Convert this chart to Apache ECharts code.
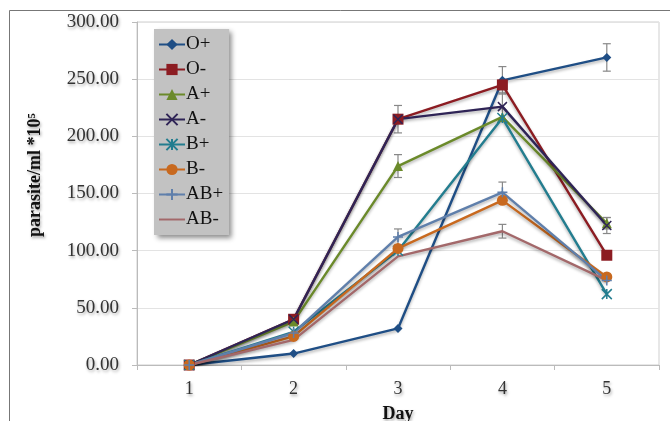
<!DOCTYPE html>
<html><head><meta charset="utf-8">
<script src="https://cdn.jsdelivr.net/npm/echarts@6/dist/echarts.min.js"></script>
<style>html,body{margin:0;padding:0;background:#fff}#c{width:670px;height:421px}</style>
</head><body><div id="c"></div>
<script>
const days = ['1','2','3','4','5'];
const seriesNames = ['O+','O-','A+','A-','B+','B-','AB+','AB-'];
const vOpos = [0, 10, 32, 249, 269];
const vOneg = [0, 40, 215, 245, 96];
const vApos = [0, 38, 174, 217, 124];
const vAneg = [0, 40, 215, 226, 122];
const vBpos = [0, 29, 100, 216, 62];
const vBneg = [0, 25, 102, 144, 77];
const vABpos = [0, 28, 112, 151, 74];
const vABneg = [0, 22, 95, 117, 74];
const eOpos = [0, 0, 0, 12, 12];
const eOneg = [0, 0, 12, 0, 0];
const eApos = [0, 0, 10, 0, 5];
const eAneg = [0, 0, 0, 12, 7];
const eBpos = [0, 0, 0, 0, 0];
const eBneg = [0, 0, 0, 0, 0];
const eABpos = [0, 0, 7, 9, 0];
const eABneg = [0, 0, 0, 6, 0];
const yTicks = [0, 50, 100, 150, 200, 250, 300];
const yTitle = 'parasite/ml *10\u2075';
const xTitle = 'Day';

const values = [vOpos, vOneg, vApos, vAneg, vBpos, vBneg, vABpos, vABneg];
const errors = [eOpos, eOneg, eApos, eAneg, eBpos, eBneg, eABpos, eABneg];
const colors = ['#1f4e85', '#8c1c22', '#6b8a2a', '#2f2456', '#237d8f', '#c8691f', '#5f7fab', '#a3686a'];
const crossPath = 'path://M0,0L10,10M10,0L0,10';
const starPath = 'path://M0,0L10,10M10,0L0,10M5,0L5,10';
const symbols = ['diamond', 'rect', 'triangle', crossPath, starPath, 'circle', 'path://M5,0L5,10M0,5L10,5', 'none'];
const symSizes = [9, 11, 10, 9, 10, 11, 10, 0];

const serif = '"Liberation Serif", "DejaVu Serif", serif';
const txtShadow = {textShadowColor: 'rgba(0,0,0,0.35)', textShadowBlur: 3, textShadowOffsetX: 1, textShadowOffsetY: 2};

const series = [];
seriesNames.forEach((n, i) => {
  const strokeSym = (i === 3 || i === 4 || i === 6);
  series.push({
    name: n, type: 'line', data: values[i],
    symbol: symbols[i], symbolSize: symSizes[i], showSymbol: true,
    lineStyle: {color: colors[i], width: 2.4, shadowColor: 'rgba(0,0,0,0.3)', shadowBlur: 3, shadowOffsetY: 2},
    itemStyle: strokeSym ? {color: colors[i], borderColor: colors[i], borderWidth: 1.5} : {color: colors[i], borderWidth: 0},
    z: 3
  });
});
seriesNames.forEach((n, i) => {
  series.push({
    type: 'custom', name: n + ' err', silent: true, z: 2,
    data: days.map((d, k) => [k, values[i][k], errors[i][k]]).filter(r => r[2] > 0),
    renderItem: function (params, api) {
      const x = api.value(0), y = api.value(1), e = api.value(2);
      const top = api.coord([x, y + e]);
      const bot = api.coord([x, y - e]);
      const w = 4;
      const st = {stroke: '#888', lineWidth: 1.2};
      return {type: 'group', children: [
        {type: 'line', shape: {x1: top[0], y1: top[1], x2: bot[0], y2: bot[1]}, style: st},
        {type: 'line', shape: {x1: top[0] - w, y1: top[1], x2: top[0] + w, y2: top[1]}, style: st},
        {type: 'line', shape: {x1: bot[0] - w, y1: bot[1], x2: bot[0] + w, y2: bot[1]}, style: st}
      ]};
    },
    encode: {x: 0, y: 1}
  });
});

const legendData = seriesNames.map((n, i) => symbols[i] === 'none' ? {name: n, icon: 'path://M0,0L40,0L40,3L0,3Z'} : n);

const chart = echarts.init(document.getElementById('c'));
chart.setOption({
  animation: false,
  backgroundColor: '#fff',
  graphic: [
    {type: 'rect', shape: {x: 9.5, y: 10.5, width: 700, height: 500}, style: {fill: 'none', stroke: '#777', lineWidth: 1}, z: -1},
    {type: 'text', x: 35, y: 175, rotation: Math.PI / 2,
     style: Object.assign({text: yTitle, fontFamily: serif, fontSize: 18, fontWeight: 'bold', fill: '#111', align: 'center', verticalAlign: 'middle'}, txtShadow)}
  ],
  grid: {left: 137, top: 22, right: 11, bottom: 56, show: true, borderColor: '#cfcfcf', borderWidth: 1, outerBoundsMode: 'none', containLabel: false},
  legend: {
    orient: 'vertical', left: 154, top: 29, data: legendData,
    backgroundColor: '#c2c2c2', padding: [6, 6, 6, 4], itemGap: 6, itemWidth: 26, itemHeight: 14,
    shadowColor: 'rgba(0,0,0,0.45)', shadowBlur: 5, shadowOffsetX: 3, shadowOffsetY: 3,
    textStyle: {fontFamily: serif, fontSize: 19, lineHeight: 18, color: '#111', padding: [0, 0, 0, -4]}
  },
  xAxis: {
    type: 'category', data: days, boundaryGap: true,
    name: xTitle, nameLocation: 'middle', nameGap: 40,
    nameTextStyle: Object.assign({fontFamily: serif, fontSize: 18, fontWeight: 'bold', color: '#111'}, txtShadow),
    axisLine: {lineStyle: {color: '#bbb'}},
    axisTick: {show: true, lineStyle: {color: '#bbb'}, length: 5},
    axisLabel: Object.assign({fontFamily: serif, fontSize: 18, color: '#333', margin: 15}, txtShadow),
    splitLine: {show: false}
  },
  yAxis: {
    type: 'value', min: yTicks[0], max: yTicks[yTicks.length - 1], interval: 50,
    axisLine: {show: true, lineStyle: {color: '#bbb'}},
    axisTick: {show: true, lineStyle: {color: '#bbb'}, length: 5},
    axisLabel: Object.assign({fontFamily: serif, fontSize: 19, color: '#333', margin: 18, formatter: v => v.toFixed(2)}, txtShadow),
    splitLine: {lineStyle: {color: '#e3e3e3'}}
  },
  series: series
});
</script></body></html>
